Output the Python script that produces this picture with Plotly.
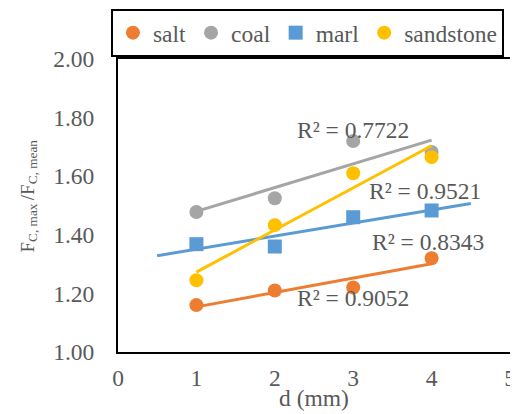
import numpy as np
import plotly.graph_objects as go

d_mm = [1, 2, 3, 4]
salt = [1.16, 1.21, 1.22, 1.32]
coal = [1.478, 1.525, 1.72, 1.683]
marl = [1.368, 1.36, 1.46, 1.483]
sandstone = [1.245, 1.433, 1.61, 1.665]

series_names = ["salt", "coal", "marl", "sandstone"]
series_values = [salt, coal, marl, sandstone]
colors = ["#ED7D31", "#A5A5A5", "#5B9BD5", "#FFC000"]
symbols = ["circle", "circle", "square", "circle"]
# trendline extent (x from, x to)
trend_extent = [(1, 4), (1, 4), (0.5, 4.5), (1, 4)]
r2_labels = ["R² = 0.9052", "R² = 0.7722", "R² = 0.8343", "R² = 0.9521"]
r2_pos = [(2.26, 1.184), (2.26, 1.758), (3.22, 1.375), (3.17, 1.549)]

x_ticks = [0, 1, 2, 3, 4, 5]
y_ticks = [1.0, 1.2, 1.4, 1.6, 1.8, 2.0]
x_title = "d (mm)"
y_title = "F<sub>C, max </sub>/F<sub>C, mean</sub>"

FONT = "Liberation Serif"
TXT = "#595959"
FS = 23.5

fig = go.Figure()
for name, vals, c, s in zip(series_names, series_values, colors, symbols):
    fig.add_trace(go.Scatter(x=d_mm, y=vals, mode="markers", name=name,
                             marker=dict(color=c, size=14, symbol=s)))
for name, vals, c, (x0, x1) in zip(series_names, series_values, colors, trend_extent):
    k, b = np.polyfit(d_mm, vals, 1)
    xs = [x0, x1]
    fig.add_trace(go.Scatter(x=xs, y=[k * v + b for v in xs], mode="lines",
                             line=dict(color=c, width=3), showlegend=False,
                             hoverinfo="skip"))

for lab, (ax, ay) in zip(r2_labels, r2_pos):
    fig.add_annotation(x=ax, y=ay, text=lab, showarrow=False, xanchor="left",
                       yanchor="middle", font=dict(family=FONT, size=FS, color=TXT))

# axis titles
fig.add_annotation(x=0.5, y=0, xref="paper", yref="paper", text=x_title,
                   showarrow=False, xanchor="center", yanchor="middle", yshift=-46,
                   font=dict(family=FONT, size=FS, color=TXT))
fig.add_annotation(x=0, y=0.5, xref="paper", yref="paper", text=y_title,
                   showarrow=False, xanchor="center", yanchor="middle", textangle=-90,
                   xshift=-90, yshift=9,
                   font=dict(family=FONT, size=19, color=TXT))

fig.update_layout(
    width=510, height=406,
    margin=dict(l=110, r=8, t=51, b=62, autoexpand=False),
    paper_bgcolor="white", plot_bgcolor="white",
    font=dict(family=FONT, size=FS, color=TXT),
    showlegend=True,
    legend=dict(orientation="h", x=-0.018, xanchor="left", y=1.171, yanchor="top",
                bordercolor="black", borderwidth=2,
                font=dict(family=FONT, size=FS, color=TXT),
                bgcolor="white"),
)
fig.update_xaxes(range=[0, 5], tickvals=x_ticks, ticktext=[str(v) for v in x_ticks],
                 showgrid=False, zeroline=False, showline=True, linecolor="black",
                 linewidth=2, mirror=True, ticks="", automargin=False,
                 ticklabelstandoff=4,
                 tickfont=dict(family=FONT, size=FS, color=TXT))
fig.update_yaxes(range=[1, 2], tickvals=y_ticks, ticktext=[f"{v:.2f}" for v in y_ticks],
                 showgrid=False, zeroline=False, showline=True, linecolor="black",
                 linewidth=2, mirror=True, ticks="", ticklabelstandoff=17, automargin=False,
                 tickfont=dict(family=FONT, size=FS, color=TXT))

fig.write_html("out.html")
